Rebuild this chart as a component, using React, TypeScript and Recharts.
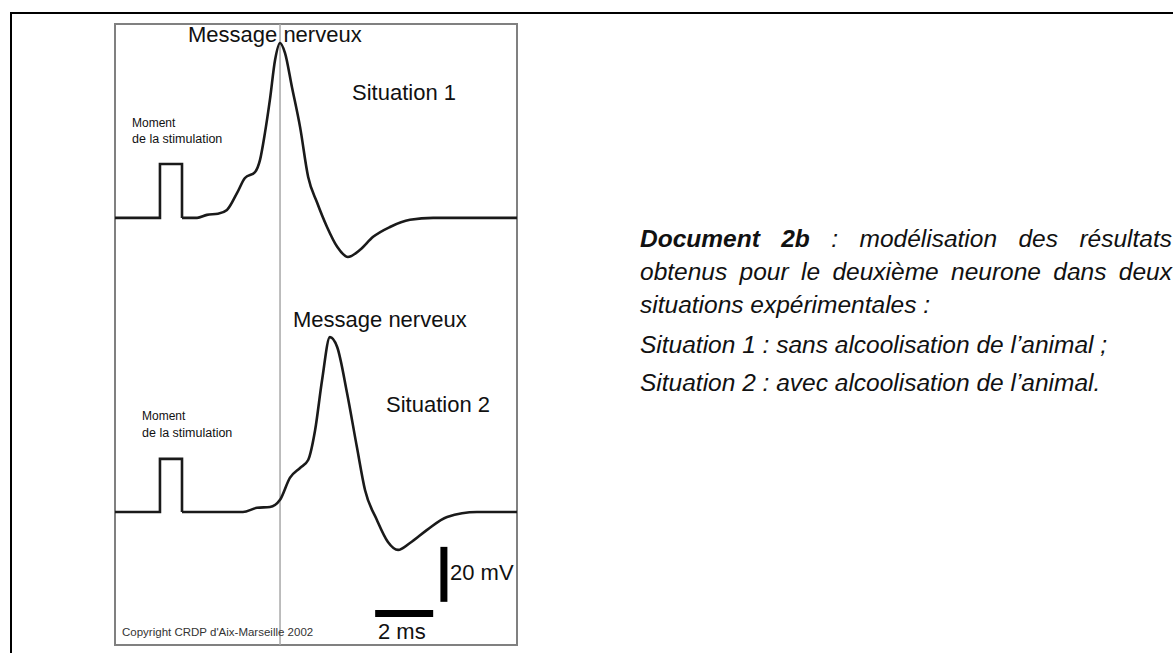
import React from 'react';
import { LineChart, Line, XAxis, YAxis, ReferenceLine } from 'recharts';

// stimulation pulse (ms, mV above rest)
const stimTimes = [0, 1.55, 1.55, 2.31, 2.31];
const stimValues1 = [0, 0, 19.6, 19.6, 0];
const stimValues2 = [0, 0, 19.3, 19.3, 0];

// situation 1 : sans alcool
const times1 = [2.31, 2.83, 3.17, 3.55, 3.86, 4.21, 4.48, 4.83, 5.0, 5.17, 5.34, 5.52, 5.69, 5.86, 6.1, 6.38, 6.66, 6.97, 7.31, 7.66, 8.03, 8.45, 8.9, 9.48, 10.17, 10.97, 13.86];
const values1 = [0, 0, 1.1, 1.5, 2.9, 9.1, 14.5, 16.7, 21.1, 30.9, 42.9, 57.5, 63.6, 60.0, 47.6, 33.1, 14.9, 5.5, -3.3, -10.5, -14.2, -11.6, -6.9, -3.3, -0.7, 0, 0];

// situation 2 : avec alcool
const times2 = [2.31, 4.41, 4.9, 5.34, 5.69, 6.03, 6.38, 6.66, 6.9, 7.14, 7.41, 7.66, 8.0, 8.34, 8.62, 9.03, 9.41, 9.76, 10.17, 10.76, 11.45, 12.48, 13.86];
const values2 = [0, 0, 1.5, 1.8, 4.4, 12.4, 16.0, 18.9, 29.8, 48.0, 63.6, 60.0, 43.3, 23.6, 8.0, -2.9, -10.9, -13.8, -11.3, -6.5, -1.8, 0, 0];

const peakTime1 = 5.69;
const scaleMv = 20;
const scaleMs = 2;

const toRows = (t: number[], v: number[]) => t.map((x, i) => ({ t: x, v: v[i] }));

const FONT = '"Liberation Sans", Arial, sans-serif';

const labels = [
  { text: 'Message nerveux', x: 188, y: 42, size: 22 },
  { text: 'Situation 1', x: 352, y: 100, size: 22 },
  { text: 'Moment', x: 132, y: 127, size: 12 },
  { text: 'de la stimulation', x: 132, y: 143, size: 12.5 },
  { text: 'Message nerveux', x: 293, y: 327, size: 22 },
  { text: 'Situation 2', x: 386, y: 412, size: 22 },
  { text: 'Moment', x: 142, y: 420, size: 12 },
  { text: 'de la stimulation', x: 142, y: 437, size: 12.5 },
  { text: '20 mV', x: 450, y: 580, size: 22 },
  { text: '2 ms', x: 378, y: 639, size: 22 },
];

export default function App() {
  const lineProps = {
    stroke: '#1a1a1a',
    strokeWidth: 2.6,
    dot: false,
    activeDot: false,
    isAnimationActive: false,
    dataKey: 'v',
  };
  return (
    <div style={{ position: 'absolute', left: 0, top: 0, width: 1173, height: 653, background: '#fff', overflow: 'hidden', fontFamily: FONT }}>
      <div style={{ position: 'absolute', left: 10, top: 12, width: 1300, height: 800, borderTop: '2px solid #000', borderLeft: '2px solid #000' }} />
      <div style={{ position: 'absolute', left: 114, top: 23, width: 404, height: 623, boxSizing: 'border-box', border: '2px solid #808080' }} />
      <div style={{ position: 'absolute', left: 115, top: 24 }}>
        <LineChart width={402} height={621} margin={{ top: 0, right: 0, bottom: 0, left: 0 }}>
          <XAxis type="number" dataKey="t" domain={[0, 13.86]} allowDataOverflow hide />
          <YAxis yAxisId="s1" type="number" domain={[-155.3, 70.5]} allowDataOverflow hide />
          <YAxis yAxisId="s2" type="number" domain={[-48.4, 177.5]} allowDataOverflow hide />
          <ReferenceLine yAxisId="s1" x={peakTime1} stroke="#a8a8a8" strokeWidth={1.5} />
          <Line {...lineProps} yAxisId="s1" type="linear" data={toRows(stimTimes, stimValues1)} />
          <Line {...lineProps} yAxisId="s1" type="monotone" data={toRows(times1, values1)} />
          <Line {...lineProps} yAxisId="s2" type="linear" data={toRows(stimTimes, stimValues2)} />
          <Line {...lineProps} yAxisId="s2" type="monotone" data={toRows(times2, values2)} />
          <ReferenceLine
            yAxisId="s2"
            segment={[{ x: 11.34, y: -12.7 }, { x: 11.34, y: -12.7 - scaleMv }]}
            stroke="#000"
            strokeWidth={7}
            ifOverflow="visible"
          />
          <ReferenceLine
            yAxisId="s2"
            segment={[{ x: 8.97, y: -36.9 }, { x: 8.97 + scaleMs, y: -36.9 }]}
            stroke="#000"
            strokeWidth={7}
            ifOverflow="visible"
          />
        </LineChart>
      </div>
      <svg width={1173} height={653} style={{ position: 'absolute', left: 0, top: 0, pointerEvents: 'none' }}>
        {labels.map((l, i) => (
          <text key={i} x={l.x} y={l.y} fontSize={l.size} fontFamily={FONT} fill="#111">
            {l.text}
          </text>
        ))}
        <text x={122} y={636} fontSize={11.5} fontFamily={FONT} fill="#333">
          Copyright CRDP d'Aix-Marseille 2002
        </text>
      </svg>
      <div style={{ position: 'absolute', left: 640, top: 222, width: 532, fontSize: 24.5, lineHeight: '33px', fontStyle: 'italic', color: '#111' }}>
        <div style={{ textAlign: 'justify', textAlignLast: 'justify', whiteSpace: 'nowrap' }}>
          <b>Document 2b</b> : modélisation des résultats
        </div>
        <div style={{ textAlign: 'justify', textAlignLast: 'justify', whiteSpace: 'nowrap' }}>
          obtenus pour le deuxième neurone dans deux
        </div>
        <div>situations expérimentales :</div>
        <div style={{ marginTop: 7 }}>Situation 1 : sans alcoolisation de l’animal ;</div>
        <div style={{ marginTop: 5 }}>Situation 2 : avec alcoolisation de l’animal.</div>
      </div>
    </div>
  );
}
